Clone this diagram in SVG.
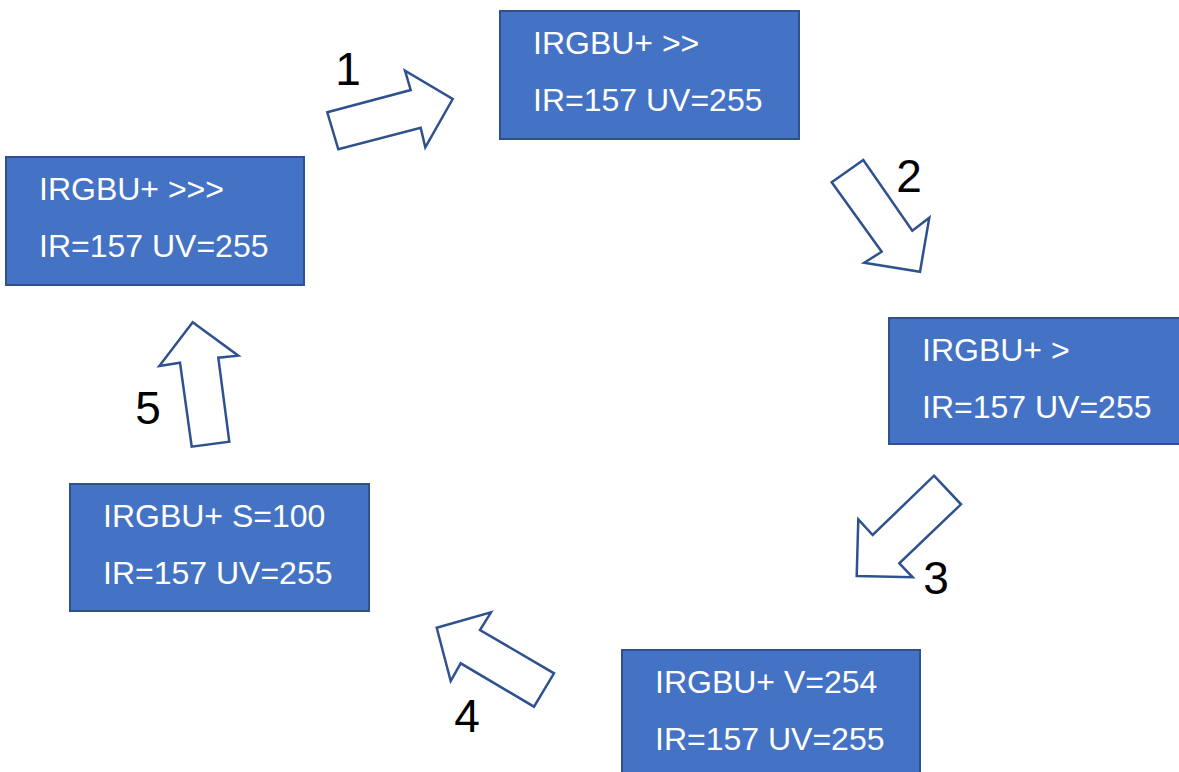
<svg xmlns="http://www.w3.org/2000/svg" width="1179" height="772" viewBox="0 0 1179 772">
<style>
.box{fill:#4472C4;stroke:#2F528F;stroke-width:2}
.t{fill:#ffffff;font-family:"Liberation Sans",Arial,sans-serif;font-size:32px}
.arr{fill:#ffffff;stroke:#2F528F;stroke-width:2.5;stroke-linejoin:miter}
.n{fill:#000000;font-family:"Liberation Sans",Arial,sans-serif;font-size:46px;text-anchor:middle}
</style>
<rect width="1179" height="772" fill="#ffffff"/>
<g id="node-a">
<rect class="box" x="500" y="11" width="299" height="128"/>
<text class="t" x="533" y="54">IRGBU+ &gt;&gt;</text>
<text class="t" x="533" y="111">IR=157 UV=255</text>
</g>
<g id="node-b">
<rect class="box" x="6" y="157" width="298" height="128"/>
<text class="t" x="39" y="200">IRGBU+ &gt;&gt;&gt;</text>
<text class="t" x="39" y="257">IR=157 UV=255</text>
</g>
<g id="node-c">
<rect class="box" x="889" y="318" width="291" height="126"/>
<text class="t" x="922" y="361">IRGBU+ &gt;</text>
<text class="t" x="922" y="418">IR=157 UV=255</text>
</g>
<g id="node-d">
<rect class="box" x="622" y="650" width="298" height="124"/>
<text class="t" x="655" y="693">IRGBU+ V=254</text>
<text class="t" x="655" y="750">IR=157 UV=255</text>
</g>
<g id="node-e">
<rect class="box" x="70" y="484" width="299" height="127"/>
<text class="t" x="103" y="527">IRGBU+ S=100</text>
<text class="t" x="103" y="584">IR=157 UV=255</text>
</g>
<g id="connectors">
<polygon class="arr" points="327.3,112.3 410.7,90 405,70.7 452.7,99 425.3,147.3 420.7,127.7 338.3,149.3"/>
<polygon class="arr" points="831.7,182.3 863.3,160 912.3,230.7 929.3,217.7 920,271.7 864.3,262.7 881.7,251.7"/>
<polygon class="arr" points="934,475.7 961,504.3 899.3,563.3 912.7,577.3 856.7,576 858.3,519.3 872.7,535"/>
<polygon class="arr" points="436.7,627.7 491,612.3 480,630 554,673.3 534,706.7 460.7,663.3 450.7,681"/>
<polygon class="arr" points="192.7,322.3 238.3,355.7 218.3,357.7 229.3,441.7 191.7,446.7 180,362.7 159.3,366"/>
<text class="n" x="348" y="85">1</text>
<text class="n" x="909" y="192">2</text>
<text class="n" x="936" y="594">3</text>
<text class="n" x="467" y="732">4</text>
<text class="n" x="148" y="424">5</text>
</g>
</svg>
